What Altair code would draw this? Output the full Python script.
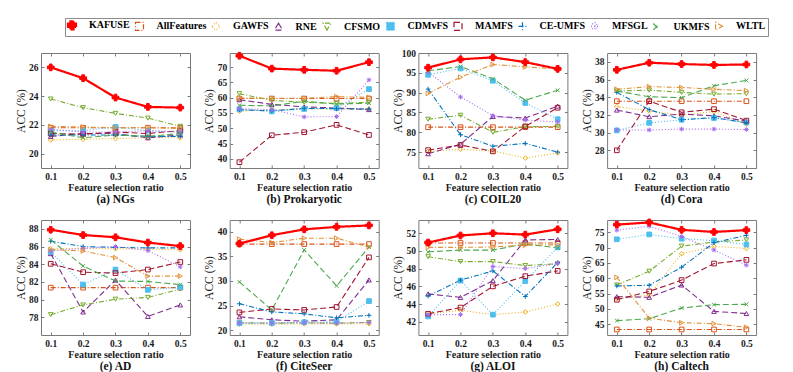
import altair as alt
import pandas as pd

methods = ["KAFUSE", "AllFeatures", "GAWFS", "RNE", "CFSMO", "CDMvFS",
           "MAMFS", "CE-UMFS", "MFSGL", "UKMFS", "WLTL"]
colors = ["#FF0000", "#D95319", "#EDB120", "#7E2F8E", "#77AC30", "#4DBEEE",
          "#A2142F", "#0072BD", "#A66BF0", "#4DA84D", "#E0923A"]
dash_styles = [[1, 0], [5, 2, 1, 2], [1, 2], [6, 3], [5, 2, 1, 2], [1, 2],
               [6, 3], [5, 2, 1, 2], [1, 2], [6, 3], [5, 2, 1, 2]]
PLUS = "M-1,0L1,0M0,-1L0,1"
XSHAPE = "M-0.8,-0.8L0.8,0.8M-0.8,0.8L0.8,-0.8"
AST = "M-1,0L1,0M0,-1L0,1M-0.7,-0.7L0.7,0.7M-0.7,0.7L0.7,-0.7"
point_shapes = ["cross", "square", "diamond", "triangle-up", "triangle-down", "square",
                "square", PLUS, AST, XSHAPE, "triangle-right"]
point_fills = ["#FF0000", "transparent", "transparent", "transparent", "transparent", "#4DBEEE",
               "transparent", "transparent", "#A66BF0", "transparent", "transparent"]
LINE = "M-1.25,0L3.75,0"
legend_paths = [
    LINE + "M1.25,-0.85L1.25,0.85",
    LINE + "M0.65,-0.6L1.85,-0.6L1.85,0.6L0.65,0.6Z",
    LINE + "M1.25,-0.75L2,0L1.25,0.75L0.5,0Z",
    LINE + "M1.25,-0.75L2,0.55L0.5,0.55Z",
    LINE + "M0.5,-0.55L2,-0.55L1.25,0.75Z",
    LINE + "M0.7,-0.55L1.8,-0.55L1.8,0.55L0.7,0.55Z",
    LINE + "M0.65,-0.6L1.85,-0.6L1.85,0.6L0.65,0.6Z",
    LINE + "M1.25,-0.75L1.25,0.75",
    LINE + "M1.25,-0.75L1.25,0.75M0.7,-0.55L1.8,0.55M0.7,0.55L1.8,-0.55",
    LINE + "M0.65,-0.6L1.85,0.6M0.65,0.6L1.85,-0.6",
    LINE + "M0.6,-0.7L2,0L0.6,0.7Z",
]
legend_fill = ["#FF0000", "transparent", "transparent", "transparent", "transparent", "#4DBEEE",
               "transparent", "transparent", "transparent", "transparent", "transparent"]
legend_sw = [2.2] + [1.2] * 10
ratios = [0.1, 0.2, 0.3, 0.4, 0.5]

ngs = {
    "KAFUSE": [26.0, 25.25, 23.9, 23.25, 23.2],
    "AllFeatures": [21.8, 21.8, 21.8, 21.8, 21.8],
    "GAWFS": [20.95, 21.0, 21.05, 21.1, 21.1],
    "RNE": [21.2, 21.4, 21.4, 21.1, 21.3],
    "CFSMO": [23.8, 23.2, 22.8, 22.47, 21.9],
    "CDMvFS": [21.6, 21.6, 21.85, 21.6, 21.5],
    "MAMFS": [21.4, 21.35, 21.5, 21.4, 21.6],
    "CE-UMFS": [21.3, 21.3, 21.3, 21.2, 21.2],
    "MFSGL": [21.7, 21.5, 21.5, 21.6, 21.5],
    "UKMFS": [21.5, 21.1, 21.3, 21.2, 21.4],
    "WLTL": [21.9, 21.85, 21.8, 21.8, 21.75],
}
prokaryotic = {
    "KAFUSE": [73.7, 69.5, 69.1, 68.8, 71.6],
    "AllFeatures": [59.7, 59.7, 59.7, 59.7, 59.7],
    "GAWFS": [55.6, 56.0, 56.3, 56.3, 56.3],
    "RNE": [59.3, 57.8, 57.0, 56.6, 56.1],
    "CFSMO": [61.3, 59.1, 58.5, 58.1, 58.5],
    "CDMvFS": [56.2, 55.5, 56.3, 56.6, 62.8],
    "MAMFS": [38.9, 47.7, 48.7, 51.1, 47.8],
    "CE-UMFS": [56.0, 55.7, 56.5, 56.4, 56.3],
    "MFSGL": [56.4, 56.1, 53.7, 53.8, 65.8],
    "UKMFS": [57.5, 57.3, 58.8, 57.9, 58.2],
    "WLTL": [59.9, 59.8, 59.8, 60.3, 60.1],
}
coil20 = {
    "KAFUSE": [96.3, 98.4, 98.9, 97.7, 96.0],
    "AllFeatures": [81.3, 81.3, 81.3, 81.3, 81.3],
    "GAWFS": [75.2, 75.7, 75.3, 73.5, 74.8],
    "RNE": [74.6, 77.0, 84.0, 83.6, 86.6],
    "CFSMO": [83.3, 84.3, 80.0, 81.4, 81.5],
    "CDMvFS": [94.5, 96.1, 93.0, 87.4, 83.3],
    "MAMFS": [75.5, 76.8, 75.2, 81.5, 86.2],
    "CE-UMFS": [90.9, 79.4, 76.5, 77.2, 75.0],
    "MFSGL": [95.2, 88.9, 84.2, 83.1, 82.6],
    "UKMFS": [95.5, 96.6, 93.5, 88.1, 90.6],
    "WLTL": [89.8, 93.9, 97.1, 96.5, 96.0],
}
cora = {
    "KAFUSE": [37.1, 37.9, 37.75, 37.65, 37.7],
    "AllFeatures": [33.55, 33.55, 33.55, 33.55, 33.55],
    "GAWFS": [32.95, 32.45, 31.95, 32.4, 30.95],
    "RNE": [32.55, 31.8, 32.1, 31.9, 31.3],
    "CFSMO": [34.7, 34.8, 34.55, 34.35, 34.4],
    "CDMvFS": [30.25, 31.1, 31.45, 31.65, 31.15],
    "MAMFS": [28.0, 33.55, 32.3, 32.65, 31.35],
    "CE-UMFS": [34.55, 32.6, 31.45, 31.7, 31.1],
    "MFSGL": [30.3, 30.3, 30.4, 30.4, 30.35],
    "UKMFS": [34.7, 34.05, 33.95, 35.3, 35.9],
    "WLTL": [34.9, 35.2, 35.1, 34.9, 34.75],
}
ad = {
    "KAFUSE": [87.9, 87.3, 87.05, 86.45, 86.05],
    "AllFeatures": [81.35, 81.35, 81.35, 81.35, 81.35],
    "GAWFS": [85.75, 85.8, 85.75, 85.7, 85.65],
    "RNE": [85.2, 78.6, 82.2, 78.1, 79.4],
    "CFSMO": [78.3, 79.4, 80.05, 80.25, 81.2],
    "CDMvFS": [85.4, 81.7, 83.4, 81.1, 81.4],
    "MAMFS": [84.05, 83.1, 83.0, 83.4, 84.25],
    "CE-UMFS": [86.6, 86.0, 85.9, 85.85, 85.85],
    "MFSGL": [85.5, 85.8, 86.0, 85.55, 83.7],
    "UKMFS": [86.75, 83.8, 82.1, 82.05, 81.7],
    "WLTL": [85.65, 85.5, 84.75, 82.65, 82.65],
}
citeseer = {
    "KAFUSE": [37.6, 39.3, 40.5, 41.0, 41.3],
    "AllFeatures": [37.5, 37.5, 37.5, 37.5, 37.5],
    "GAWFS": [21.2, 21.2, 21.25, 21.25, 21.3],
    "RNE": [22.7, 22.1, 21.8, 22.1, 30.2],
    "CFSMO": [21.5, 21.4, 21.45, 21.4, 21.55],
    "CDMvFS": [21.4, 21.45, 21.6, 21.7, 25.9],
    "MAMFS": [23.6, 24.3, 24.1, 24.7, 34.8],
    "CE-UMFS": [25.35, 23.7, 23.3, 22.5, 23.0],
    "MFSGL": [21.45, 21.45, 21.5, 21.45, 21.55],
    "UKMFS": [29.8, 24.1, 36.3, 29.0, 36.9],
    "WLTL": [38.5, 37.8, 38.7, 38.7, 36.9],
}
aloi = {
    "KAFUSE": [50.95, 51.75, 52.0, 51.85, 52.45],
    "AllFeatures": [50.9, 50.9, 50.9, 50.9, 50.9],
    "GAWFS": [42.9, 43.3, 42.8, 43.1, 44.0],
    "RNE": [45.15, 44.75, 46.65, 51.25, 51.3],
    "CFSMO": [49.35, 48.8, 48.8, 48.35, 48.55],
    "CDMvFS": [42.6, 46.65, 42.8, 46.6, 50.4],
    "MAMFS": [42.9, 43.6, 46.0, 47.15, 47.75],
    "CE-UMFS": [44.9, 46.7, 47.75, 44.85, 48.7],
    "MFSGL": [42.8, 42.8, 48.25, 48.0, 48.6],
    "UKMFS": [49.9, 50.1, 50.1, 50.8, 50.35],
    "WLTL": [50.4, 50.4, 50.45, 50.65, 50.7],
}
caltech = {
    "KAFUSE": [77.5, 78.2, 75.8, 75.1, 75.7],
    "AllFeatures": [43.3, 43.3, 43.3, 43.3, 43.3],
    "GAWFS": [53.3, 54.5, 68.0, 70.4, 69.7],
    "RNE": [54.0, 53.8, 57.8, 49.2, 48.5],
    "CFSMO": [57.8, 62.3, 70.5, 71.8, 72.5],
    "CDMvFS": [72.7, 74.3, 72.9, 72.3, 71.0],
    "MAMFS": [53.0, 55.7, 59.4, 64.8, 66.0],
    "CE-UMFS": [57.5, 57.7, 63.6, 71.6, 74.0],
    "MFSGL": [75.7, 77.0, 73.6, 69.2, 64.3],
    "UKMFS": [46.2, 46.8, 50.3, 51.4, 51.5],
    "WLTL": [60.3, 47.0, 45.5, 45.2, 44.0],
}

panel_titles = ["(a) NGs", "(b) Prokaryotic", "(c) COIL20", "(d) Cora",
                "(e) AD", "(f) CiteSeer", "(g) ALOI", "(h) Caltech"]
panel_data = [ngs, prokaryotic, coil20, cora, ad, citeseer, aloi, caltech]
y_domains = [[19, 27], [37, 74.6], [71, 100], [26, 39],
             [76, 89], [19, 42.4], [40.5, 53.5], [41.5, 79]]
y_ticks = [[20, 22, 24, 26], [40, 45, 50, 55, 60, 65, 70], [75, 80, 85, 90, 95, 100],
           [28, 30, 32, 34, 36, 38], [78, 80, 82, 84, 86, 88], [20, 25, 30, 35, 40],
           [42, 44, 46, 48, 50, 52], [45, 50, 55, 60, 65, 70, 75]]

rows = []
for t, vals in zip(panel_titles, panel_data):
    for m in methods:
        for r, v in zip(ratios, vals[m]):
            rows.append({"dataset": t, "method": m, "mk": m, "ratio": r, "acc": v})
df = pd.DataFrame(rows)


def by_method(values, quote):
    expr = f"'{values[-1]}'" if quote else str(values[-1])
    for m, v in reversed(list(zip(methods[:-1], values[:-1]))):
        vv = f"'{v}'" if quote else str(v)
        expr = f"datum.value === '{m}' ? {vv} : ({expr})"
    return expr


SERIF = "Liberation Serif"
FRAME = "#7a7a7a"
W, H = 149, 115

legend = alt.Legend(
    orient="none", legendX=24, legendY=-35, direction="horizontal", title=None,
    labelFont=SERIF, labelFontWeight="bold", labelFontSize=10, labelColor="#000000",
    symbolType={"expr": by_method(legend_paths, True)},
    symbolFillColor={"expr": by_method(legend_fill, True)},
    symbolStrokeWidth={"expr": by_method(legend_sw, False)},
    symbolSize=64, labelOffset=12, columnPadding=2.5, padding=2,
    strokeColor="#8c8c8c", fillColor="#ffffff", labelLimit=0,
)

color_scale = alt.Scale(domain=methods, range=colors)
dash_scale = alt.Scale(domain=methods, range=dash_styles)
stroke_scale = alt.Scale(domain=methods, range=colors)
fill_scale = alt.Scale(domain=methods, range=point_fills)
shape_scale = alt.Scale(domain=methods, range=point_shapes)

tick_axis = dict(labels=False, domain=False, grid=False, title=None, ticks=True,
                 tickSize=3, tickColor=FRAME, tickWidth=1)


def make_panel(title, dom, ticks):
    base = alt.Chart(df).transform_filter(alt.FieldEqualPredicate(field="dataset", equal=title))
    xs = alt.Scale(domain=[0.07, 0.53], nice=False, zero=False)
    ys = alt.Scale(domain=dom, nice=False, zero=False)
    x_main = alt.X("ratio:Q", scale=xs,
                   axis=alt.Axis(values=ratios, format=".1f", title="Feature selection ratio",
                                 ticks=False, tickSize=0, domain=False, grid=False,
                                 labelPadding=3, titlePadding=2, orient="bottom"))
    y_main = alt.Y("acc:Q", scale=ys,
                   axis=alt.Axis(values=ticks, title="ACC (%)", ticks=False, tickSize=0,
                                 domain=False, grid=False, labelPadding=3, orient="left",
                                 minExtent=14, maxExtent=14, titlePadding=1))
    x_in_bottom = alt.X("ratio:Q", scale=xs, axis=alt.Axis(values=ratios, orient="top", offset=-H, **tick_axis))
    y_in_left = alt.Y("acc:Q", scale=ys, axis=alt.Axis(values=ticks, orient="right", offset=-W, **tick_axis))
    x_in_top = alt.X("ratio:Q", scale=xs, axis=alt.Axis(values=ratios, orient="bottom", offset=-H, **tick_axis))
    y_in_right = alt.Y("acc:Q", scale=ys, axis=alt.Axis(values=ticks, orient="left", offset=-W, **tick_axis))
    x_none = alt.X("ratio:Q", scale=xs, axis=None)
    y_none = alt.Y("acc:Q", scale=ys, axis=None)

    color = alt.Color("method:N", scale=color_scale, legend=legend)
    dash = alt.StrokeDash("method:N", scale=dash_scale, legend=legend)
    penc = dict(
        stroke=alt.Stroke("mk:N", scale=stroke_scale, legend=None),
        fill=alt.Fill("mk:N", scale=fill_scale, legend=None),
        shape=alt.Shape("mk:N", scale=shape_scale, legend=None),
    )
    others = base.transform_filter(alt.datum.method != "KAFUSE")
    kaf = base.transform_filter(alt.datum.method == "KAFUSE")
    l1 = others.mark_line(strokeWidth=1.1).encode(x=x_main, y=y_main, color=color, strokeDash=dash)
    p1 = others.mark_point(size=22, strokeWidth=1, opacity=1).encode(x=x_in_bottom, y=y_in_left, **penc)
    l2 = kaf.mark_line(strokeWidth=2.2).encode(x=x_in_top, y=y_in_right, color=color, strokeDash=dash)
    p2 = kaf.mark_point(size=45, strokeWidth=1, opacity=1).encode(x=x_none, y=y_none, **penc)
    return alt.layer(l1, p1, l2, p2).properties(
        width=W, height=H,
        title=alt.TitleParams(text=title, orient="bottom", font=SERIF, fontWeight="bold",
                              fontSize=11.5, offset=1, color="#111111", anchor="middle"),
    )


panels = [make_panel(t, d, tk) for t, d, tk in zip(panel_titles, y_domains, y_ticks)]

chart = alt.concat(*panels, columns=4, spacing={"row": 52, "column": 39.7}, bounds="flush").properties(
    padding={"left": 6, "top": 9, "right": 5, "bottom": 0}
).configure_view(
    stroke=FRAME, strokeWidth=1
).configure_axis(
    labelFont=SERIF, labelFontWeight="bold", labelFontSize=9.5, labelColor="#1a1a1a",
    titleFont=SERIF, titleColor="#1a1a1a",
).configure_axisX(
    titleFontWeight="bold", titleFontSize=10,
).configure_axisY(
    titleFontWeight="normal", titleFontSize=11.5,
)

chart.save("out.html", embed_options={"renderer": "svg", "actions": False})
